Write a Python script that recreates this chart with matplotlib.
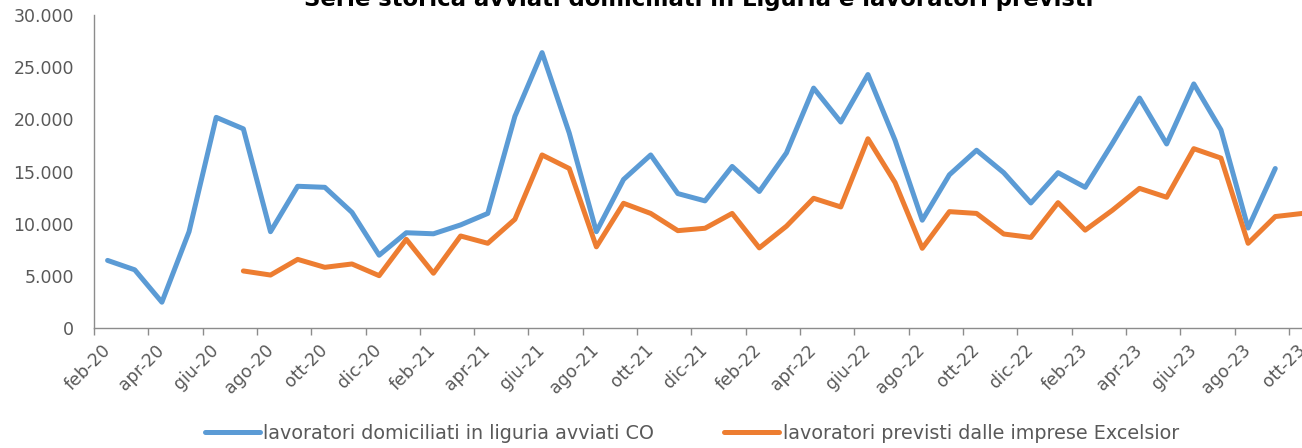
import numpy as np
import matplotlib
matplotlib.use("Agg")
import matplotlib.pyplot as plt
from matplotlib.ticker import FuncFormatter, FixedLocator

mesi = ["gen", "feb", "mar", "apr", "mag", "giu", "lug", "ago", "set", "ott", "nov", "dic"]
months = [f"{m}-{y}" for y in ("20", "21", "22", "23") for m in mesi][1:46]

# lavoratori domiciliati in liguria avviati CO
avviati = [6500, 5600, 2500, 9250, 20200, 19100, 9250, 13600, 13500, 11100, 7000,
           9150, 9050, 9900, 11000, 20300, 26400, 18700, 9250, 14250, 16600, 12900, 12200,
           15500, 13100, 16800, 23000, 19750, 24300, 18000, 10350, 14700, 17050, 14900, 12000,
           14900, 13500, 17700, 22050, 17650, 23400, 19000, 9600, 15300, None]

# lavoratori previsti dalle imprese Excelsior
previsti = [None, None, None, None, None, 5490, 5100, 6600, 5840, 6160, 5040,
            8520, 5270, 8840, 8140, 10440, 16600, 15300, 7800, 11970, 11000, 9350, 9580,
            11000, 7700, 9780, 12450, 11620, 18150, 13950, 7660, 11170, 11000, 9030, 8700,
            12030, 9400, 11300, 13400, 12550, 17200, 16300, 8140, 10700, 11000]

lbl_avviati = "lavoratori domiciliati in liguria avviati CO"
lbl_previsti = "lavoratori previsti dalle imprese Excelsior"
title = "Serie storica avviati domiciliati in Liguria e lavoratori previsti"

blue = "#5B9BD5"
orange = "#ED7D31"
grey_txt = "#595959"
grey_ax = "#8C8C8C"

x = np.arange(len(months))
y1 = np.array([np.nan if v is None else v for v in avviati], dtype=float)
y2 = np.array([np.nan if v is None else v for v in previsti], dtype=float)

fig = plt.figure(figsize=(13.02, 4.48), dpi=100)
ax = fig.add_axes([94 / 1302, (448 - 328.3) / 448, 1222 / 1302, 313.3 / 448])

kw = dict(lw=3.6, solid_capstyle="round", solid_joinstyle="round")
ax.plot(x, y1, color=blue, label=lbl_avviati, **kw)
ax.plot(x, y2, color=orange, label=lbl_previsti, **kw)

ax.set_xlim(-0.5, len(months) - 0.5)
ax.set_ylim(0, 30000)
ax.set_yticks(np.arange(0, 30001, 5000))
ax.yaxis.set_major_formatter(FuncFormatter(lambda v, p: f"{v:,.0f}".replace(",", ".")))
ax.tick_params(axis="y", length=0, pad=14.4, labelsize=12.5, labelcolor=grey_txt)

# ticks on category boundaries, labels on every other month
ax.xaxis.set_major_locator(FixedLocator(np.arange(-0.5, len(months), 2)))
ax.xaxis.set_major_formatter(FuncFormatter(lambda v, p: ""))
ax.xaxis.set_minor_locator(FixedLocator(x[::2]))
ax.set_xticklabels([months[i] for i in x[::2]], minor=True)
ax.tick_params(axis="x", which="major", direction="out", length=5, width=1, color=grey_ax)
ax.tick_params(axis="x", which="minor", length=0, pad=14, labelsize=12.5, labelcolor=grey_txt)
for t in ax.get_xticklabels(minor=True):
    t.set_rotation(45)
    t.set_ha("right")
    t.set_va("center")
    t.set_rotation_mode("anchor")

for s in ("top", "right"):
    ax.spines[s].set_visible(False)
for s in ("left", "bottom"):
    ax.spines[s].set_color(grey_ax)
    ax.spines[s].set_linewidth(1.0)

fig.text(699 / 1302, (448 - 6) / 448, title, ha="center", va="baseline",
         fontsize=16.4, fontweight="bold", color="black")

fig.legend(loc="center", bbox_to_anchor=(692 / 1302, (448 - 433) / 448), ncol=2,
           frameon=False, fontsize=13.8, handlelength=2.87, handletextpad=0.2,
           columnspacing=3.65, labelcolor=grey_txt)

fig.savefig("out.png", dpi=100)
